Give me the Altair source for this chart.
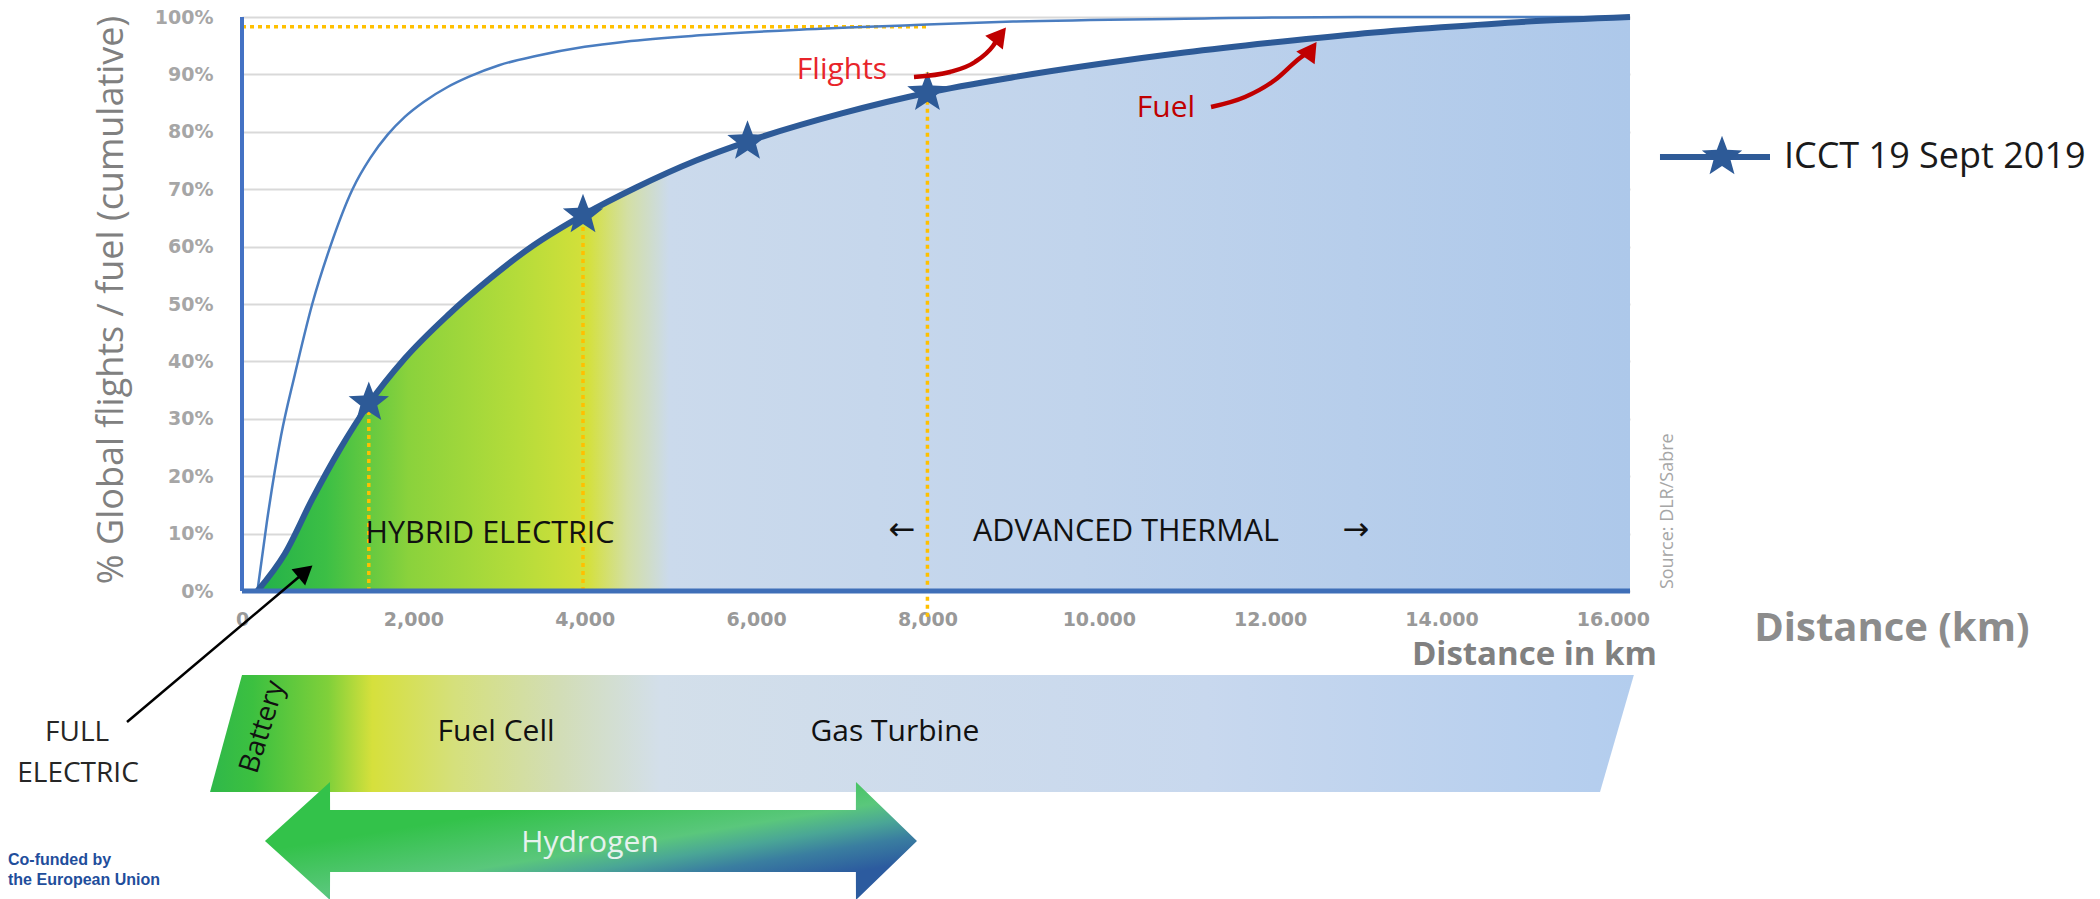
import altair as alt
import pandas as pd

# ---------------- data ----------------
# cumulative share of global fuel (thick curve) vs. distance in km
FUEL_KM = [180, 500, 820, 1135, 1480, 1900, 2400, 2900, 3400, 3980, 4600, 5300,
           5900, 7000, 8000, 9000, 10000, 11000, 12000, 13000, 14000, 15000, 16200]
FUEL_PCT = [0, 6.5, 16, 24.5, 32.6, 40.5, 48, 54.5, 60.2, 65.5, 70.3, 75,
            78.3, 83.2, 86.8, 89.5, 91.8, 93.8, 95.5, 97, 98.2, 99.2, 100]
# cumulative share of global flights (thin curve)
FLIGHTS_KM = [180, 290, 455, 615, 820, 1030, 1290, 1500, 1700, 1900, 2120, 2400, 2650,
              3000, 3430, 4000, 4470, 5340, 6500, 7850, 9000, 11000, 13000, 16200]
FLIGHTS_PCT = [0, 12, 27, 37.6, 50, 60, 70, 75.5, 79.5, 82.6, 85.2, 87.8, 89.6,
               91.6, 93.2, 94.8, 95.7, 96.8, 97.8, 98.6, 99.2, 99.7, 100, 100]
# ICCT star markers
STAR_KM = [1480, 3980, 5900, 8000]
STAR_PCT = [32.8, 65.5, 78.3, 86.8]
# dotted guide lines
VGUIDE_KM = [1480, 3980, 8000]
VGUIDE_FROM = [0, 0, -4.5]
VGUIDE_TO = [33, 65.5, 90.4]
HGUIDE_PCT = 98.3
HGUIDE_TO_KM = 8000

X_TICKS = [0, 2000, 4000, 6000, 8000, 10000, 12000, 14000, 16000]
X_TICK_LABELS = ["0", "2,000", "4,000", "6,000", "8,000", "10.000", "12.000", "14.000", "16.000"]
Y_TICKS = [0, 10, 20, 30, 40, 50, 60, 70, 80, 90, 100]

# technology band below the chart (km / % coordinates of its outline)
BAND_KM = [-373, 0, 15850, 16245]
BAND_TOP = [-35.02, -14.63, -14.63, -14.63]
BAND_BOTTOM = [-35.02, -35.02, -35.02, -14.63]
# hydrogen double arrow outline
H2_KM = [268, 1027, 1028, 7165, 7166, 7878]
H2_TOP = [-43.55, -33.28, -38.15, -38.15, -33.28, -43.55]
H2_BOTTOM = [-43.55, -53.83, -48.95, -48.95, -53.83, -43.55]

# annotation arrows
FLIGHT_ARROW_KM = [7843, 8263, 8555, 8765, 8847]
FLIGHT_ARROW_PCT = [89.55, 90.42, 92.16, 94.95, 96.86]
FUEL_ARROW_KM = [11310, 11706, 12056, 12348, 12477]
FUEL_ARROW_PCT = [84.32, 86.06, 89.02, 92.86, 94.25]
FE_ARROW_KM = [-1342, 740]
FE_ARROW_PCT = [-22.82, 3.40]

STAR_PATH = ("M0,-1L0.2469,-0.3398L0.9511,-0.309L0.3994,0.1298L0.5878,0.809L0,0.42"
             "L-0.5878,0.809L-0.3994,0.1298L-0.9511,-0.309L-0.2469,-0.3398Z")

# ---------------- scales / axes ----------------
XS = alt.Scale(domain=[0, 16200], nice=False, zero=False)
YS = alt.Scale(domain=[0, 100], nice=False, zero=False)

label_expr = " : ".join(f"datum.value == {v} ? '{l}'" for v, l in zip(X_TICKS, X_TICK_LABELS)) + " : ''"
X_AXIS = alt.Axis(values=X_TICKS, labelExpr=label_expr, title=None, domain=False, ticks=False,
                  grid=False, labelFont="DejaVu Sans", labelFontWeight="bold", labelFontSize=19,
                  labelColor="#999999", labelPadding=19, labelFlush=False, labelOverlap=False)
Y_AXIS = alt.Axis(values=Y_TICKS, labelExpr="datum.value + '%'", title=None, domain=False, ticks=False,
                  grid=True, gridColor="#d9d9d9", gridWidth=2, labelFont="DejaVu Sans",
                  labelFontWeight="bold", labelFontSize=19, labelColor="#a6a6a6", labelPadding=29)


def enc(chart, y2=None, x2=None, **extra):
    e = dict(x=alt.X("x:Q", scale=XS, axis=X_AXIS), y=alt.Y("y:Q", scale=YS, axis=Y_AXIS))
    if y2:
        e["y2"] = alt.Y2(y2)
    if x2:
        e["x2"] = alt.X2(x2)
    e.update(extra)
    return chart.encode(**e)


def text(items, **kw):
    df = pd.DataFrame(items, columns=["x", "y", "t"])
    return enc(alt.Chart(df).mark_text(**kw), text="t:N")


fuel_df = pd.DataFrame({"x": FUEL_KM, "y": FUEL_PCT, "y0": [0] * len(FUEL_KM)})
flights_df = pd.DataFrame({"x": FLIGHTS_KM, "y": FLIGHTS_PCT})
stars_df = pd.DataFrame({"x": STAR_KM, "y": STAR_PCT})

area_grad = alt.LinearGradient(gradient="linear", x1=0, y1=0, x2=1, y2=0, stops=[
    alt.GradientStop(color="#22b14a", offset=0.0),
    alt.GradientStop(color="#3cbf45", offset=0.05),
    alt.GradientStop(color="#8ad23c", offset=0.11),
    alt.GradientStop(color="#b5dc3a", offset=0.19),
    alt.GradientStop(color="#d4e03a", offset=0.24),
    alt.GradientStop(color="#d3dfa5", offset=0.27),
    alt.GradientStop(color="#cbdaec", offset=0.30),
    alt.GradientStop(color="#c1d4ec", offset=0.6),
    alt.GradientStop(color="#adc8ea", offset=1.0)])

area = enc(alt.Chart(fuel_df).mark_area(color=area_grad, interpolate="monotone"), y2="y0")
fuel_line = enc(alt.Chart(fuel_df).mark_line(color="#2d5a97", strokeWidth=6, interpolate="monotone"))
flights_line = enc(alt.Chart(flights_df).mark_line(color="#4a7dc0", strokeWidth=2.5, interpolate="monotone"))
stars = enc(alt.Chart(stars_df).mark_point(shape=STAR_PATH, filled=True, color="#2d5a97", size=1800, opacity=1))

vg_df = pd.DataFrame({"x": VGUIDE_KM, "y": VGUIDE_FROM, "y2": VGUIDE_TO})
vguides = enc(alt.Chart(vg_df).mark_rule(color="#ffc000", strokeWidth=3.5, strokeDash=[4, 4]), y2="y2")
hg_df = pd.DataFrame({"x": [0], "x2": [HGUIDE_TO_KM], "y": [HGUIDE_PCT]})
hguide = enc(alt.Chart(hg_df).mark_rule(color="#ffc000", strokeWidth=3.5, strokeDash=[4, 4]), x2="x2")

yaxis_line = enc(alt.Chart(pd.DataFrame({"x": [0], "y": [0], "y2": [100]})).mark_rule(
    color="#4472c4", strokeWidth=4), y2="y2")
xaxis_line = enc(alt.Chart(pd.DataFrame({"x": [0], "x2": [16200], "y": [0]})).mark_rule(
    color="#3f6fb8", strokeWidth=5), x2="x2")

# technology band
band_grad = alt.LinearGradient(gradient="linear", x1=0, y1=0, x2=1, y2=0, stops=[
    alt.GradientStop(color="#2fb84a", offset=0.0),
    alt.GradientStop(color="#3cc040", offset=0.03),
    alt.GradientStop(color="#80d03a", offset=0.083),
    alt.GradientStop(color="#d6e03c", offset=0.114),
    alt.GradientStop(color="#d5e07c", offset=0.172),
    alt.GradientStop(color="#d2ddb5", offset=0.244),
    alt.GradientStop(color="#d3dfea", offset=0.316),
    alt.GradientStop(color="#c8d8ee", offset=0.7),
    alt.GradientStop(color="#b3cdee", offset=1.0)])
band_df = pd.DataFrame({"x": BAND_KM, "y": BAND_TOP, "y2": BAND_BOTTOM})
band = enc(alt.Chart(band_df).mark_area(color=band_grad), y2="y2")

h2_grad = alt.LinearGradient(gradient="linear", x1=0.2, y1=0.4, x2=0.7, y2=0.95, stops=[
    alt.GradientStop(color="#33c24a", offset=0.0),
    alt.GradientStop(color="#5ac77c", offset=0.45),
    alt.GradientStop(color="#4aa696", offset=0.62),
    alt.GradientStop(color="#3a7ea0", offset=0.78),
    alt.GradientStop(color="#2c5b9f", offset=1.0)])
h2_df = pd.DataFrame({"x": H2_KM, "y": H2_TOP, "y2": H2_BOTTOM})
h2 = enc(alt.Chart(h2_df).mark_area(color=h2_grad), y2="y2")

# arrows
def arrow(kms, pcts, color, width, head_angle, head_size):
    df = pd.DataFrame({"x": kms, "y": pcts})
    line = enc(alt.Chart(df).mark_line(color=color, strokeWidth=width, interpolate="monotone"))
    head = enc(alt.Chart(df.tail(1)).mark_point(shape="triangle-up", filled=True, color=color,
                                                 size=head_size, angle=head_angle, opacity=1))
    return line + head


flights_arrow = arrow(FLIGHT_ARROW_KM, FLIGHT_ARROW_PCT, "#c00000", 4.5, 38, 500)
fuel_arrow = arrow(FUEL_ARROW_KM, FUEL_ARROW_PCT, "#c00000", 4.5, 35, 500)
fe_df = pd.DataFrame({"x": FE_ARROW_KM, "y": FE_ARROW_PCT})
fe_arrow = enc(alt.Chart(fe_df).mark_line(color="#000000", strokeWidth=2.5)) + \
    enc(alt.Chart(fe_df.tail(1)).mark_point(shape="triangle-up", filled=True, color="#000000",
                                             size=450, angle=50, opacity=1))

# legend
leg_line = enc(alt.Chart(pd.DataFrame({"x": [16550], "x2": [17834], "y": [75.6]})).mark_rule(
    color="#2f5b98", strokeWidth=6), x2="x2")
leg_star = enc(alt.Chart(pd.DataFrame({"x": [17274], "y": [75.6]})).mark_point(
    shape=STAR_PATH, filled=True, color="#2d5a97", size=1800, opacity=1))

F = "Open Sans"
texts = [
    text([(-1517, 50.7, "% Global flights / fuel (cumulative)")], font=F, fontSize=36, color="#808080",
         angle=270, align="center", baseline="middle"),
    text([(2895, 9.9, "HYBRID ELECTRIC"), (10317, 10.3, "ADVANCED THERMAL")], font=F, fontSize=30.5,
         color="#111111", align="center", baseline="middle"),
    text([(7703, 10.6, "←"), (13001, 10.6, "→")], font="DejaVu Sans", fontSize=32, color="#111111",
         align="center", baseline="middle"),
    text([(7003, 90.8, "Flights")], font=F, fontSize=30, color="#e8242a", align="center", baseline="middle"),
    text([(10784, 84.1, "Fuel")], font=F, fontSize=30, color="#c00000", align="center", baseline="middle"),
    text([(16643, 13.9, "Source: DLR/Sabre")], font=F, fontSize=18, color="#a6a6a6", angle=270,
         align="center", baseline="middle"),
    text([(17997, 75.6, "ICCT 19 Sept 2019")], font=F, fontSize=36, color="#1a1a1a", align="left",
         baseline="middle"),
    text([(16515, -11.15, "Distance in km")], font=F, fontSize=33, fontWeight="bold", color="#808080",
         align="right", baseline="middle"),
    text([(19256, -6.62, "Distance (km)")], font=F, fontSize=40, fontWeight="bold", color="#8c8c8c",
         align="center", baseline="middle"),
    text([(-1925, -24.74, "FULL"), (-1914, -31.88, "ELECTRIC")], font=F, fontSize=28, color="#262626",
         align="center", baseline="middle"),
    text([(245, -23.7, "Battery")], font=F, fontSize=28, color="#111111", angle=287, align="center",
         baseline="middle"),
    text([(2965, -24.6, "Fuel Cell"), (7621, -24.6, "Gas Turbine")], font=F, fontSize=30,
         color="#111111", align="center", baseline="middle"),
    text([(4062, -43.9, "Hydrogen")], font=F, fontSize=30, color="#e6f2ee", align="center",
         baseline="middle"),
    text([(-2731, -46.9, "Co-funded by"), (-2731, -50.3, "the European Union")],
         font="Liberation Sans", fontSize=16, fontWeight="bold", color="#1f4e9c", align="left",
         baseline="middle"),
]

chart = alt.layer(
    area, vguides, hguide, flights_line, fuel_line, stars, yaxis_line, xaxis_line,
    band, h2, flights_arrow, fuel_arrow, fe_arrow, leg_line, leg_star, *texts
).properties(
    width=1388, height=574,
    autosize=alt.AutoSizeParams(type="none"),
    padding={"left": 242, "top": 17, "right": 470, "bottom": 308},
    background="white",
).configure_view(stroke=None)

chart.save("out.html", embed_options={"renderer": "svg", "actions": False})
